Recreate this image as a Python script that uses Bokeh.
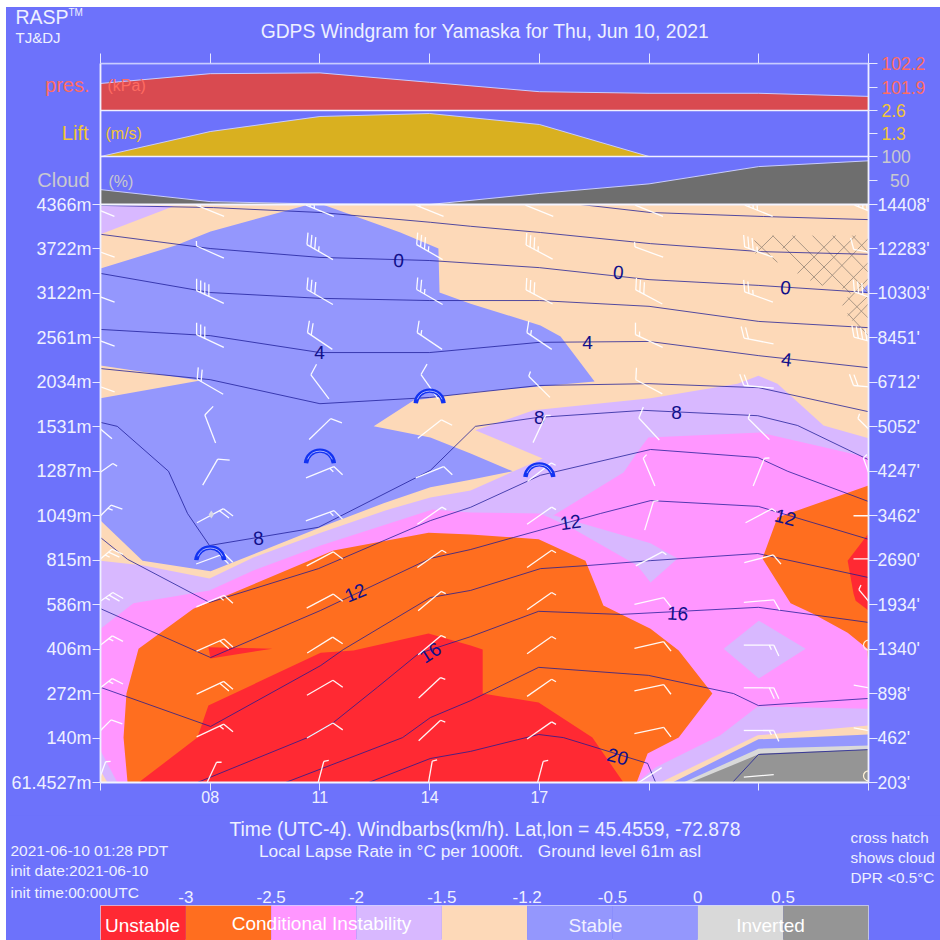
from bokeh.core.properties import value
from bokeh.embed import file_html
from bokeh.layouts import column
from bokeh.models import FixedTicker, Label, LinearAxis, Range1d, Span
from bokeh.plotting import figure
from bokeh.resources import INLINE
import math

# ---------- data ----------
times = [5, 8, 11, 14, 17, 20, 23, 26]
hour_labels = {5: "", 8: "08", 11: "11", 14: "14", 17: "17", 20: "", 23: "", 26: ""}
level_ticks = list(range(14))
metres = ["61.4527m", "140m", "272m", "406m", "586m", "815m", "1049m", "1287m", "1531m",
          "2034m", "2561m", "3122m", "3722m", "4366m"]
feet = ["203'", "462'", "898'", "1340'", "1934'", "2690'", "3462'", "4247'", "5052'",
        "6712'", "8451'", "10303'", "12283'", "14408'"]

pressure = [101.945, 102.07, 102.08, 101.96, 101.84, 101.82, 101.82, 101.78]
lift = [0, 1.41, 2.26, 2.43, 1.81, 0, 0, 0]
cloud = [31, 6, 1, 0, 23, 43, 79, 91]

stable_h = [5, 7.05, 8.01, 10.6, 11.07, 13.2, 14.24, 14.27, 15.12, 17.03, 17.58, 18.51, 15.12, 13.56,
            12.47, 14.02, 15.12, 16.27, 15.12, 14.02, 12.74, 11.02, 8.01, 6.15, 5]
stable_l = [11.56, 12.08, 12.39, 12.98, 13, 12.37, 12.01, 11.02, 10.77, 10.28, 10.03, 9.02, 8.77, 8.59,
            8.01, 7.76, 7.4, 7.0, 6.81, 6.64, 6.28, 5.74, 4.75, 4.99, 5.89]
wedge_h = [5, 7.73, 5]
wedge_l = [9.38, 9.04, 8.64]
corner_h = [5, 7, 5]
corner_l = [13, 12.96, 12.33]
tri_h = [25.78, 26, 26]
tri_l = [11.02, 11.22, 11.0]
lilac_h = [5, 6.18, 7.98, 9.18, 11.02, 12.79, 14.02, 15.12, 17.09, 15.25, 16.84, 20.04, 22.42, 22.99,
           23.51, 24.77, 26, 26, 5]
lilac_l = [4.99, 4.88, 4.59, 5.06, 5.62, 6.12, 6.41, 6.57, 7.29, 7.92, 8.37, 8.64, 8.97, 9.15,
           8.97, 8.03, 7.74, 0, 0]
pink_h = [5, 5.9, 7.98, 9.18, 11.02, 14.08, 15.12, 17.03, 17.39, 19.3, 19.77, 19.98, 23.05, 26, 26,
          22.97, 21.95, 20.18, 19.66, 5.46, 5]
pink_l = [3.46, 4.03, 4.32, 4.77, 5.33, 6.14, 6.07, 6.05, 6.01, 6.97, 7.53, 7.76, 7.87, 7.31, 1.66,
          1.71, 1.06, 0.34, 0, 0, 0.72]
stripe_h = [17.03, 17.39, 20.04, 20.78, 20.04, 19.68, 17.85]
stripe_l = [6.05, 6.01, 5.38, 5.04, 4.5, 4.88, 5.74]
diamond_h = [23, 24.28, 23, 22.04]
diamond_l = [3.64, 3.01, 2.34, 3.01]
orange_h = [5.74, 5.63, 5.71, 6.04, 7.54, 8.47, 11.37, 13.97, 15.12, 16.98, 18.26, 18.59, 18.75,
            20.04, 20.81, 21.73, 20.81, 19.96, 19.66]
orange_l = [0, 1.01, 2.0, 3.01, 3.91, 4.21, 5.22, 5.62, 5.58, 5.47, 4.99, 4.32, 3.98,
            3.46, 2.97, 2.0, 1.01, 0.65, 0]
orange2_h = [26, 23.51, 23.1, 23.87, 24.47, 25.43, 25.97, 26]
orange2_l = [6.68, 5.96, 5.04, 4.03, 3.8, 3.37, 3.01, 2.52]
red_h = [6.04, 7.65, 7.95, 11.02, 11.92, 13.97, 15.12, 15.45, 15.45, 16.98, 18.45, 19.3]
red_l = [0, 1.01, 1.73, 2.92, 2.97, 3.35, 3.08, 2.99, 2.0, 1.8, 1.01, 0]
red2_h = [26, 25.43, 25.59, 25.65, 26]
red2_l = [5.6, 4.99, 4.25, 4.09, 3.87]
sliver_h = [7.95, 9.7, 8.01]
sliver_l = [3.04, 3.01, 2.79]
low_peach_h = [20.31, 22.97, 26, 26]
low_peach_l = [0, 1.06, 1.28, 0]
low_stable_h = [20.64, 22.99, 26, 26]
low_stable_l = [0, 0.97, 1.08, 0]
low_light_h = [20.94, 22.99, 26, 26]
low_light_l = [0, 0.76, 0.83, 0]
low_gray_h = [21.13, 23.05, 26, 26]
low_gray_l = [0, 0.65, 0.74, 0]
foot_peach_h = [5, 5.19, 5]
foot_peach_l = [0.27, 0, 0]

temp_h = [
    [18.13, 20.04, 23.13, 26],
    [5, 8.09, 11.02, 14.02, 15.12, 17.03, 20.04, 23.05, 26],
    times,
    times,
    times,
    times,
    [5, 5.46, 6.86, 7.38, 7.98, 10.96, 14.02, 15.25, 16.95, 19.85, 22.97, 24.06, 26],
    [5, 5.74, 7.98, 10.96, 14.02, 15.12, 17.03, 20.04, 22.97, 23.79, 26],
    [5, 8.01, 11.02, 14.02, 15.12, 16.29, 18.67, 20.04, 22.99, 26],
    [5, 8.01, 11.02, 11.64, 14.02, 15.12, 17.03, 18.32, 20.04, 22.97, 26],
    [7.65, 10.66, 11.37, 12.57, 13.7, 15.12, 16.98, 19.22, 22.99, 26],
    [10.06, 13.26, 14.02, 15.12, 16.98, 19.98, 22.31, 22.99, 26],
    [12.33, 14.02, 15.12, 16.98, 17.66, 19.96, 20.18],
    [22.28, 22.99, 26],
]
temp_l = [
    [13, 12.82, 12.73, 12.66],
    [12.98, 12.93, 12.82, 12.6, 12.51, 12.37, 12.12, 11.94, 11.88],
    [12.33, 12.01, 11.81, 11.74, 11.58, 11.31, 11.18, 11.02],
    [11.45, 11.02, 10.89, 10.84, 10.84, 10.71, 10.37, 10.23],
    [10.19, 10.05, 9.67, 9.67, 9.9, 9.92, 9.6, 9.33],
    [9.31, 9.06, 8.52, 8.66, 8.93, 8.97, 8.88, 8.34],
    [8.1, 8.01, 7.0, 6.05, 5.33, 5.74, 7.02, 8.01, 8.21, 8.37, 8.25, 8.03, 7.26],
    [5.51, 5.02, 4.05, 4.81, 5.89, 6.19, 6.91, 7.49, 7.31, 7.0, 6.32],
    [3.91, 2.81, 3.87, 5.04, 5.24, 5.51, 6.05, 6.34, 6.21, 5.47],
    [2.14, 1.26, 2.63, 2.99, 4.16, 4.32, 4.81, 4.88, 4.99, 5.15, 4.61],
    [0, 1.01, 1.35, 2.14, 2.9, 3.28, 3.85, 3.78, 3.94, 3.6],
    [0, 1.01, 1.46, 1.84, 2.59, 2.41, 2.0, 1.73, 1.89],
    [0, 0.54, 0.7, 1.08, 1.01, 0.43, 0],
    [0, 0.63, 0.74],
]
temp_text = ["0", "0", "0", "4", "4", "4", "8", "8", "8", "12", "12", "12", "16", "16", "20"]
temp_text_h = [13.15, 19.16, 23.73, 10.99, 18.32, 23.76, 17.0, 20.75, 9.32, 11.97, 17.85, 23.73, 14.02, 20.78, 19.14]
temp_text_l = [11.74, 11.47, 11.13, 9.67, 9.9, 9.51, 8.21, 8.32, 5.49, 4.27, 5.85, 5.96, 2.92, 3.8, 0.58]
temp_text_a = [-3, -5, -5, 0, 0, -7, 0, 0, 5, 22, 8, -15, 33, -3, -15]

hatch_h0 = [22.88, 23.38, 23.92, 24.47, 25.02, 25.56, 25.43, 25.43,
            22.91, 23.65, 24.06, 24.41, 24.74, 25.29, 25.29, 25.43, 25.56]
hatch_h1 = [23.51, 24.74, 25.51, 26, 26, 26, 26, 26,
            23.4, 24.0, 25.1, 25.65, 26, 26, 26, 26, 26]
hatch_l0 = [12.19, 12.3, 12.3, 12.3, 12.3, 12.3, 10.91, 10.55,
            11.9, 12.01, 11.45, 11.29, 11.18, 11.11, 10.73, 10.5, 10.39]
hatch_l1 = [11.7, 11.18, 11.0, 11.02, 11.47, 11.92, 10.44, 10.05,
            12.3, 12.3, 12.3, 12.3, 12.24, 11.7, 11.34, 10.95, 10.77]

barb_rows = [0.15, 1.17, 2.13, 3.09, 4.08, 5.03, 6.0, 6.98, 7.95, 8.9, 9.93, 10.92, 11.93, 12.86]
barb_bearing = [
    [20, 25, 15, 10, 15, 57, 85, 0],
    [45, 65, 60, 47, 55, 78, 90, 100],
    [52, 65, 60, 47, 55, 78, 90, 100],
    [52, 66, 58, 50, 55, 77, 90, 0],
    [55, 67, 62, 50, 55, 77, 85, 320],
    [50, 70, 62, 55, 55, 62, 75, 90],
    [45, 62, 70, 55, 55, 17, 62, 90],
    [55, 30, 68, 68, 52, 337, 22, 340],
    [310, 339, 46, 52, 25, 317, 315, 315],
    [290, 300, 323, 325, 315, 298, 275, 275],
    [290, 295, 304, 304, 304, 295, 281, 285],
    [290, 295, 300, 300, 298, 298, 290, 290],
    [290, 294, 300, 300, 298, 290, 290, 280],
    [292, 292, 292, 292, 292, 292, 292, 292],
]
barb_speed = [
    [5, 5, 5, 5, 5, 2, 2, 0],
    [10, 15, 10, 5, 5, 10, 15, 5],
    [15, 20, 10, 5, 5, 10, 20, 10],
    [15, 20, 10, 5, 5, 10, 15, 0],
    [25, 15, 10, 5, 5, 10, 10, 5],
    [25, 20, 10, 5, 5, 5, 10, 2],
    [15, 20, 15, 5, 5, 5, 5, 2],
    [5, 10, 15, 10, 5, 5, 5, 5],
    [10, 10, 10, 10, 5, 10, 5, 5],
    [10, 20, 10, 10, 5, 10, 20, 20],
    [15, 30, 20, 15, 15, 15, 20, 40],
    [30, 40, 30, 25, 30, 30, 25, 30],
    [15, 5, 35, 35, 35, 5, 35, 10],
    [25, 20, 25, 15, 10, 5, 35, 40],
]
glider_h = [14, 11, 17, 8]
glider_l = [8.5, 7.15, 6.84, 4.97]

legend_values = ["-3", "-2.5", "-2", "-1.5", "-1.2", "-0.5", "0", "0.5"]

# ---------- style ----------
BG = "#6D72FB"
RED, ORANGE, PINK, LILAC, PEACH, STABLE = "#FF2933", "#FF6E1F", "#FF96FF", "#D8B8FF", "#FDD9B8", "#9497FD"
LIGHT, GRAY = "#D9D9D9", "#959595"
FONT = "Liberation Sans"
TEXT = "#EEF0FF"
legend_colors = [RED, ORANGE, PINK, LILAC, PEACH, STABLE, STABLE, LIGHT, GRAY]

FRAME_W, FRAME_H = 768, 719
PX_H = FRAME_W / 21
PX_L = 578 / 13
Y_END = FRAME_H / PX_L
L_CLOUD_TOP, L_LIFT_TOP, L_PRES_TOP = 626 / PX_L, 672 / PX_L, Y_END


def panel_range(vbot, vtop, lbot, ltop):
    slope = (vtop - vbot) / (ltop - lbot)
    return Range1d(vbot - lbot * slope, vbot + (Y_END - lbot) * slope)


p = figure(width=934, height=808, output_backend="svg", toolbar_location=None,
           x_range=Range1d(5, 26), y_range=Range1d(0, Y_END),
           x_axis_location=None, y_axis_location=None,
           min_border_left=94, min_border_right=72, min_border_top=56, min_border_bottom=33)
p.grid.visible = False
p.background_fill_color = BG
p.border_fill_color = BG
p.outline_line_color = None
p.extra_y_ranges = {
    "pres": panel_range(101.6, 102.2, L_LIFT_TOP, L_PRES_TOP),
    "lift": panel_range(0, 2.6, L_CLOUD_TOP, L_LIFT_TOP),
    "cloud": panel_range(0, 100, 13, L_CLOUD_TOP),
}


def fill(xs, ys, color):
    p.patch(xs, ys, fill_color=color, line_color=None)


p.quad(left=5, right=26, bottom=0, top=13, fill_color=PEACH, line_color=None)
for xs, ys, c in [
    (lilac_h, lilac_l, LILAC), (stable_h, stable_l, STABLE), (wedge_h, wedge_l, PEACH),
    (corner_h, corner_l, LILAC), (tri_h, tri_l, STABLE), (pink_h, pink_l, PINK),
    (stripe_h, stripe_l, LILAC), (diamond_h, diamond_l, LILAC), (orange_h, orange_l, ORANGE),
    (orange2_h, orange2_l, ORANGE), (red_h, red_l, RED), (red2_h, red2_l, RED),
    (sliver_h, sliver_l, RED), (low_peach_h, low_peach_l, PEACH), (low_stable_h, low_stable_l, STABLE),
    (low_light_h, low_light_l, LIGHT), (low_gray_h, low_gray_l, GRAY), (foot_peach_h, foot_peach_l, PEACH),
]:
    fill(xs, ys, c)

# cloud cross hatch
p.segment(hatch_h0, hatch_l0, hatch_h1, hatch_l1, line_color="#9C8C7C", line_width=1, line_alpha=0.85)

# temperature contours
p.multi_line(temp_h, temp_l, line_color="#1A1A96", line_width=1, line_alpha=0.75)
p.text(temp_text_h, temp_text_l, text=temp_text, angle=temp_text_a, angle_units="deg",
       text_font=value(FONT), text_font_size="19px", text_color="#10108A",
       text_align="center", text_baseline="middle")

# wind barbs
STAFF, FEATHER, GAP, TURN = 15, 12, 4.5, 65
barb_x, barb_y, calm_x, calm_y = [], [], [], []
for row, bearings, speeds in zip(barb_rows, barb_bearing, barb_speed):
    for hour, bearing, speed in zip(times, bearings, speeds):
        if speed == 0:
            calm_x.append(hour)
            calm_y.append(row)
            continue
        b = math.radians(bearing)
        ux, uy = math.sin(b), math.cos(b)
        barb_x.append([hour - STAFF * ux / PX_H, hour + STAFF * ux / PX_H])
        barb_y.append([row - STAFF * uy / PX_L, row + STAFF * uy / PX_L])
        f = math.radians(bearing + TURN)
        fx, fy = math.sin(f), math.cos(f)
        fulls, half = speed // 10, speed % 10 >= 5
        lengths = [FEATHER] * fulls + ([FEATHER * 0.42] if half else [])
        for i, length in enumerate(lengths):
            sx = hour + (STAFF - i * GAP) * ux / PX_H
            sy = row + (STAFF - i * GAP) * uy / PX_L
            barb_x.append([sx, sx + length * fx / PX_H])
            barb_y.append([sy, sy + length * fy / PX_L])
p.multi_line(barb_x, barb_y, line_color="#FFFFFF", line_width=1.3, line_alpha=0.95)
p.scatter(calm_x, calm_y, marker="circle", size=10, fill_color=None, line_color="#FFF2D8", line_width=1.2)

# gliders
p.arc(glider_h, glider_l, radius=14, radius_units="screen", start_angle=0.1, end_angle=3.04,
      line_color="#1233F2", line_width=4.4)
p.arc(glider_h, glider_l, radius=13.5, radius_units="screen", start_angle=0.4, end_angle=2.74,
      line_color="#A8AEFF", line_width=1)
p.scatter([8.03], [6.03], marker="diamond", size=8, fill_color="#D8D8E8", line_color=None)

# mask the barbs above the grid and draw the three strips
p.quad(left=5, right=26, bottom=13, top=Y_END, fill_color=BG, line_color=None)
for name, base, vals, col in [("pres", 101.6, pressure, "#D94A50"), ("lift", 0, lift, "#D9B020"),
                              ("cloud", 0, cloud, "#6E6E6E")]:
    p.varea(times, [base] * len(times), vals, y_range_name=name, fill_color=col)
    p.line(times, vals, y_range_name=name, line_color="#C8CCFF", line_width=1)

for loc, col, w in [(13, "#F4F4FF", 2), (L_CLOUD_TOP, "#F0F0FF", 1.5), (L_LIFT_TOP, "#F0F0FF", 1.5),
                    (L_PRES_TOP, "#C8CCFF", 1.5)]:
    p.add_layout(Span(location=loc, dimension="width", line_color=col, line_width=w))

# axes
AX = "#E6E8FF"
bottom = LinearAxis(ticker=FixedTicker(ticks=times), major_label_overrides=hour_labels,
                    major_tick_in=0, major_tick_out=8, minor_tick_line_color=None,
                    axis_line_color="#F4F4FF", axis_line_width=2, major_tick_line_color=AX,
                    major_label_text_color=TEXT, major_label_text_font=FONT,
                    major_label_text_font_size="16px", major_label_standoff=0)
p.add_layout(bottom, "below")
top = LinearAxis(ticker=FixedTicker(ticks=times), major_label_overrides={t: "" for t in times},
                 major_tick_in=0, major_tick_out=10, minor_tick_line_color=None,
                 axis_line_color="#C8CCFF", axis_line_width=1.5, major_tick_line_color=AX)
p.add_layout(top, "above")
left = LinearAxis(ticker=FixedTicker(ticks=level_ticks), major_label_overrides=dict(zip(level_ticks, metres)),
                  major_tick_in=0, major_tick_out=8, minor_tick_line_color=None,
                  axis_line_color="#F0F0FF", axis_line_width=1.8, major_tick_line_color=AX,
                  major_label_text_color=TEXT, major_label_text_font=FONT,
                  major_label_text_font_size="18px", major_label_standoff=1)
p.add_layout(left, "left")

panel_ticks = [L_CLOUD_TOP, (13 + L_CLOUD_TOP) / 2, L_LIFT_TOP, (L_CLOUD_TOP + L_LIFT_TOP) / 2, L_PRES_TOP,
               L_LIFT_TOP + (L_PRES_TOP - L_LIFT_TOP) / 2]
overrides = dict(zip(level_ticks, feet))
overrides.update({t: "" for t in panel_ticks})
right = LinearAxis(ticker=FixedTicker(ticks=level_ticks + panel_ticks), major_label_overrides=overrides,
                   major_tick_in=0, major_tick_out=9, minor_tick_line_color=None,
                   axis_line_color="#F0F0FF", axis_line_width=1.8, major_tick_line_color=AX,
                   major_label_text_color=TEXT, major_label_text_font=FONT,
                   major_label_text_font_size="17.5px", major_label_standoff=0)
p.add_layout(right, "right")

# ---------- legend strip ----------
leg = figure(width=934, height=125, output_backend="svg", toolbar_location=None,
             x_range=Range1d(0, 9), y_range=Range1d(0, 1),
             x_axis_location=None, y_axis_location=None,
             min_border_left=94, min_border_right=72, min_border_top=90, min_border_bottom=0)
leg.grid.visible = False
leg.background_fill_color = BG
leg.border_fill_color = BG
leg.outline_line_color = "#D0D4FF"
ids = list(range(9))
leg.quad(left=ids, right=[i + 1 for i in ids], bottom=0, top=1, fill_color=legend_colors, line_color=None)
leg_axis = LinearAxis(ticker=FixedTicker(ticks=list(range(1, 9))),
                      major_label_overrides=dict(zip(range(1, 9), legend_values)),
                      major_tick_line_color=None, minor_tick_line_color=None, axis_line_color=None,
                      major_label_text_color=TEXT, major_label_text_font=FONT,
                      major_label_text_font_size="17px", major_label_standoff=-3)
leg.add_layout(leg_axis, "above")

# ---------- transparent sheet for the free texts, which a figure would clip to its frame ----------
sheet = figure(width=940, height=940, output_backend="svg", toolbar_location=None,
               x_range=Range1d(0, 940), y_range=Range1d(940, 0),
               x_axis_location=None, y_axis_location=None,
               min_border_left=0, min_border_right=0, min_border_top=0, min_border_bottom=0,
               margin=(-940, 0, 0, 0))
sheet.grid.visible = False
sheet.background_fill_color = None
sheet.border_fill_color = None
sheet.outline_line_color = None


def put(x, y, text, size, color=TEXT, align="left"):
    sheet.add_layout(Label(x=x, y=y, text=text, text_font=FONT, text_font_size=f"{size}px", text_color=color,
                           text_align=align, text_baseline="middle"))


SALMON, GOLD, SILVER = "#FF6C62", "#F2C636", "#C9C9CF"
for y, text, col in [(63, "102.2", SALMON), (87, "101.9", SALMON), (110, "2.6", GOLD),
                     (133, "1.3", GOLD), (156, "100", SILVER)]:
    put(881, y, text, 17.5, col)
put(909, 180, "50", 17.5, SILVER, "right")
put(89, 84, "pres.", 20, SALMON, "right")
put(107, 85, "(kPa)", 16, SALMON)
put(88, 132, "Lift", 20, GOLD, "right")
put(105, 133, "(m/s)", 16, GOLD)
put(89, 179, "Cloud", 20, SILVER, "right")
put(108, 181, "(%)", 16, SILVER)
put(15, 16, "RASP", 19.5)
put(68, 12, "TM", 10)
put(15, 37, "TJ&DJ", 15)
put(484.5, 31, "GDPS Windgram for Yamaska for Thu, Jun 10, 2021", 19.3, align="center")
put(142, 925, "Unstable", 19, "#FFFFFF", "center")
put(321, 923, "Conditional Instability", 19, "#FFFFFF", "center")
put(595, 925, "Stable", 19, "#F0F0FF", "center")
put(770, 925, "Inverted", 19, "#FFFFFF", "center")
put(484.5, 829, "Time (UTC-4). Windbarbs(km/h). Lat,lon = 45.4559, -72.878", 19.3, align="center")
put(479.5, 850, "Local Lapse Rate in °C per 1000ft.\u00a0\u00a0\u00a0Ground level 61m asl", 17.3, align="center")
put(10, 850, "2021-06-10 01:28 PDT", 15.5)
put(10, 870, "init date:2021-06-10", 15.5)
put(10, 892, "init time:00:00UTC", 15.5)
put(850, 837, "cross hatch", 15.3)
put(850, 857, "shows cloud", 15.3)
put(850, 877, "DPR <0.5°C", 15.3)

panels = column(p, leg, spacing=0, margin=(7, 0, 0, 6), styles={"background": BG})
open("out.html", "w").write(file_html(column(panels, sheet, spacing=0), INLINE))
